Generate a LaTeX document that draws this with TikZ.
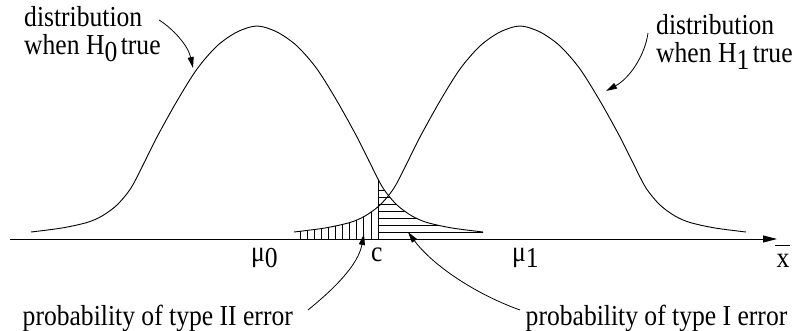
\documentclass[tikz,border=0pt]{standalone}
\usepackage{fontspec}
\setmainfont{Liberation Serif}
\usepackage{graphicx}
\usetikzlibrary{arrows.meta}
\newcommand\tx[1]{\scalebox{1}[1.13]{#1}}
\newcommand\sbs[1]{\raisebox{-5.5pt}{#1}}
\newcommand\tinysp{{\fontsize{14}{14}\selectfont\ }}
\begin{document}
\begin{tikzpicture}[x=1pt,y=-1pt,
  lbl/.style={anchor=base west, inner sep=0pt, font=\fontsize{25.6}{30}\selectfont},
  curve/.style={line width=0.9pt},
  hatch/.style={line width=0.8pt},
  callout/.style={line width=0.8pt, -{Triangle[length=11pt,width=6pt]}},
  axisline/.style={line width=0.9pt, -{Triangle[length=14pt,width=7pt]}}
]
\useasboundingbox (0,0) rectangle (799,331);

% type II region (under H1, left of c): vertical hatching
\begin{scope}
  \clip (292.5,100) rectangle (377.6,239);
  \clip[shift={(520,0)}] plot[smooth] coordinates {(-226,232) (-195,228) (-170,222.5) (-155,216) (-140,205) (-126,188) (-113,163) (-100,137) (-80,101) (-60,69) (-40,46) (-20,32) (0,26) (20,32) (40,46) (60,69) (80,101) (100,137) (113,163) (126,188) (140,205) (155,216) (170,222.5) (195,228) (226,232)} -- (226,239) -- (-226,239) -- cycle;
  \foreach \i in {0,...,11} \draw[hatch] ({293+\i*7.083},239) -- ++(0,-90);
\end{scope}

% type I region (under H0, right of c): horizontal hatching
\coordinate (cb) at (378,239);
\begin{scope}
  \clip (377.5,100) rectangle (495,239);
  \clip[shift={(257,0)}] plot[smooth] coordinates {(-226,232) (-195,228) (-170,222.5) (-155,216) (-140,205) (-126,188) (-113,163) (-100,137) (-80,101) (-60,69) (-40,46) (-20,32) (0,26) (20,32) (40,46) (60,69) (80,101) (100,137) (113,163) (126,188) (140,205) (155,216) (170,222.5) (195,228) (226,232)} -- (226,239) -- (-226,239) -- cycle;
  \draw[hatch] (cb) -- ++(0,-90);
  \foreach \yy in {232,225,218,211,204,197,190} \draw[hatch] (378,\yy) -- (495,\yy);
\end{scope}

% the two distributions
\draw[curve, shift={(257,0)}] plot[smooth] coordinates {(-226,232) (-195,228) (-170,222.5) (-155,216) (-140,205) (-126,188) (-113,163) (-100,137) (-80,101) (-60,69) (-40,46) (-20,32) (0,26) (20,32) (40,46) (60,69) (80,101) (100,137) (113,163) (126,188) (140,205) (155,216) (170,222.5) (195,228) (226,232)};
\draw[curve, shift={(520,0)}] plot[smooth] coordinates {(-226,232) (-195,228) (-170,222.5) (-155,216) (-140,205) (-126,188) (-113,163) (-100,137) (-80,101) (-60,69) (-40,46) (-20,32) (0,26) (20,32) (40,46) (60,69) (80,101) (100,137) (113,163) (126,188) (140,205) (155,216) (170,222.5) (195,228) (226,232)};

% axis
\coordinate (ax0) at (10,239);
\coordinate (ax1) at (777,239);
\draw[axisline] (ax0) -- (ax1);

% labels
\node[lbl] (d0a) at (24,27) {\tx{distribution}};
\node[lbl] (d0b) at (24,55) {\tx{when H\sbs{0}\tinysp true}};
\node[lbl] (d1a) at (656,35) {\tx{distribution}};
\node[lbl] (d1b) at (656,63) {\tx{when H\sbs{1}\tinysp true}};
\node[lbl] (mu0) at (251,261) {\tx{μ\sbs{0}}};
\node[lbl] (cc) at (371,261) {\tx{c}};
\node[lbl] (mu1) at (512,261) {\tx{μ\sbs{1}}};
\node[lbl] (xbar) at (776.5,267) {\tx{\makebox[0pt][l]{\kern-1.5pt\rule[18.5pt]{15pt}{0.8pt}}x}};
\node[lbl] (p2) at (22.5,325) {\tx{probability of type II error}};
\node[lbl] (p1) at (525.5,325) {\tx{probability of type I error}};

% callout arrows
\coordinate (a0s) at (159,20);  \coordinate (a0e) at (193,68);
\coordinate (a1s) at (648,33);  \coordinate (a1e) at (606,91);
\coordinate (a2s) at (308,310); \coordinate (a2e) at (364,234);
\coordinate (a3s) at (520,310); \coordinate (a3e) at (408,232);
\draw[callout] (a0s) .. controls (172,28) and (188,45) .. (a0e);
\draw[callout] (a1s) .. controls (645,55) and (630,78) .. (a1e);
\draw[callout] (a2s) .. controls (335,288) and (358,265) .. (a2e);
\draw[callout] (a3s) .. controls (470,292) and (430,262) .. (a3e);
\end{tikzpicture}
\end{document}
